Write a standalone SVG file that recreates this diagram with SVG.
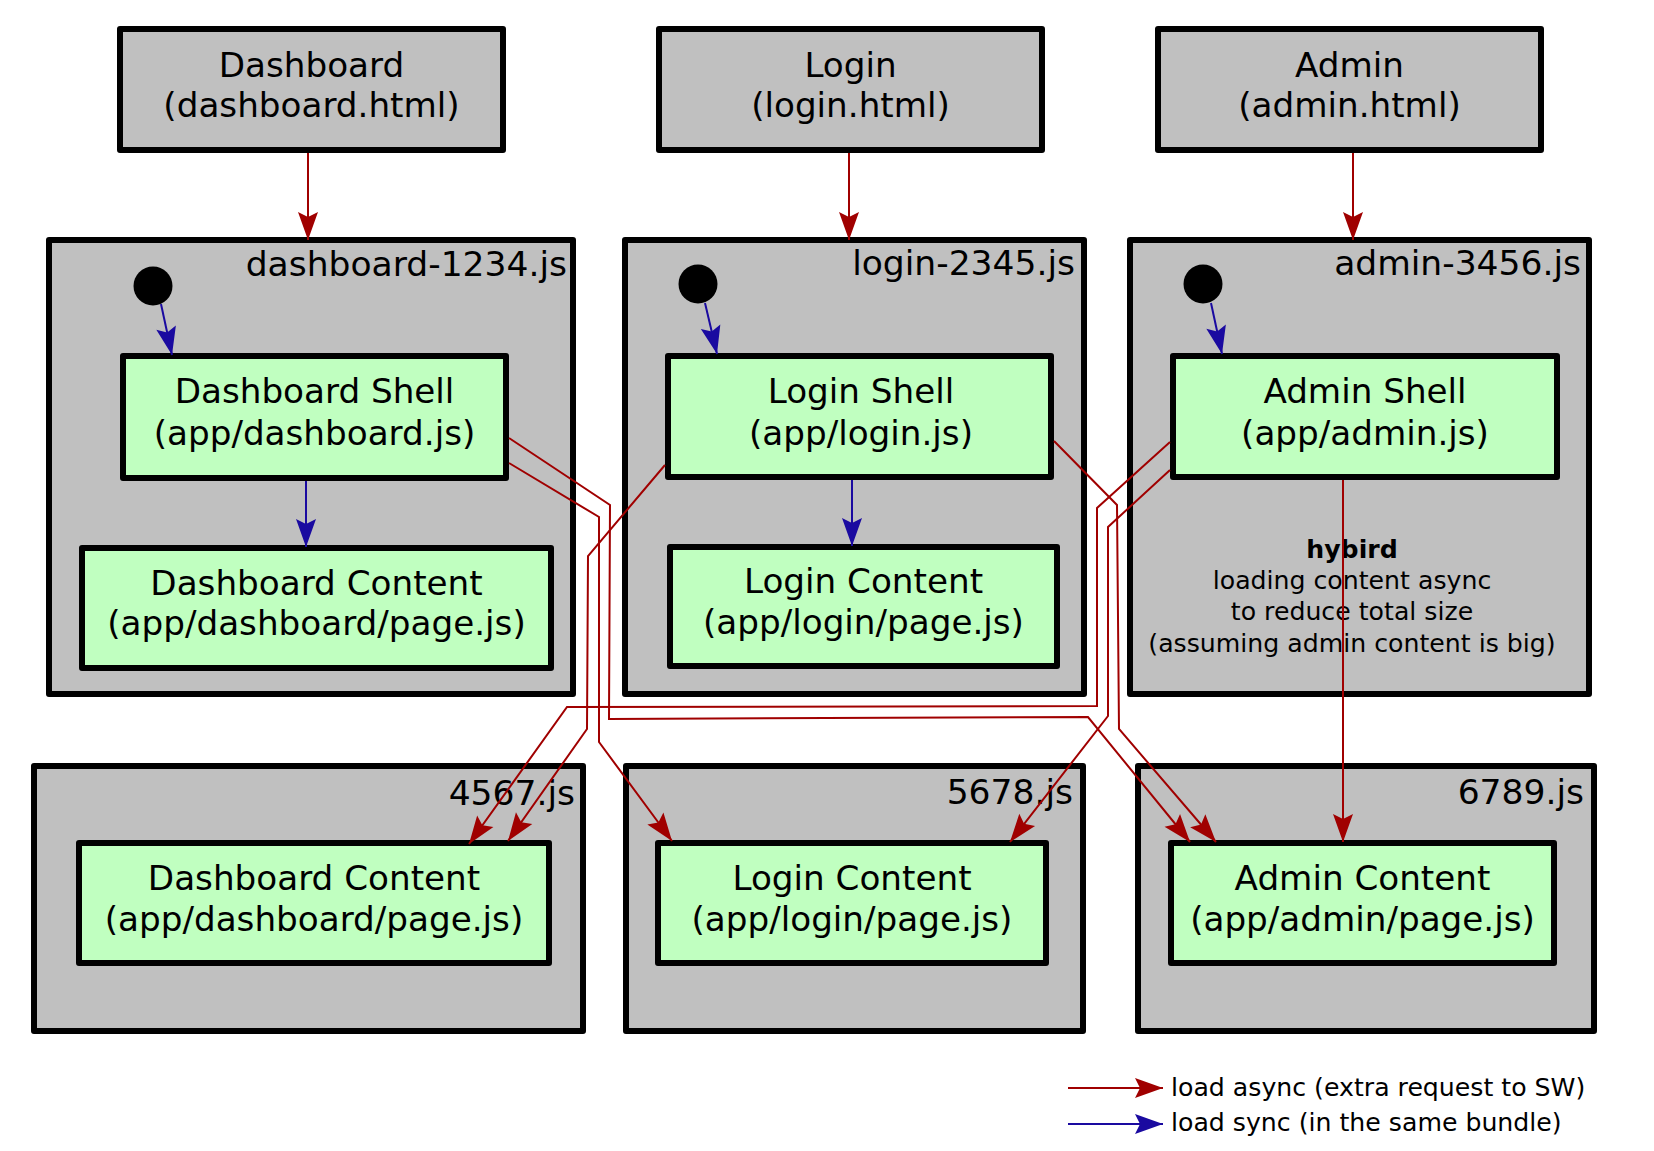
<svg xmlns="http://www.w3.org/2000/svg" width="1654" height="1151" viewBox="0 0 1654 1151">
<style>
  text { font-family: "DejaVu Sans", Verdana, "Liberation Sans", sans-serif; fill: #000; }
  .lbl { font-size: 34.2px; text-anchor: middle; }
  .clbl { font-size: 34.5px; text-anchor: end; }
  .note { font-size: 25.2px; text-anchor: middle; }
  .leg { font-size: 25.2px; }
  .page { fill: #c0c0c0; stroke: #000; stroke-width: 6; stroke-linejoin: round; }
  .cluster { fill: #c0c0c0; stroke: #000; stroke-width: 6; stroke-linejoin: round; }
  .mod { fill: #c0ffc0; stroke: #000; stroke-width: 6; stroke-linejoin: round; }
  .async { fill: none; stroke: #a00000; stroke-width: 2; marker-end: url(#ar); }
  .sync { fill: none; stroke: #1a0aa0; stroke-width: 2; marker-end: url(#ab); }
</style>
<defs>
  <marker id="ar" markerUnits="userSpaceOnUse" markerWidth="28" markerHeight="20" refX="28" refY="10" orient="auto" overflow="visible">
    <path d="M0,0 L28,10 L0,20 L5,10 z" fill="#a00000"/>
  </marker>
  <marker id="ab" markerUnits="userSpaceOnUse" markerWidth="28" markerHeight="20" refX="28" refY="10" orient="auto" overflow="visible">
    <path d="M0,0 L28,10 L0,20 L5,10 z" fill="#1a0aa0"/>
  </marker>
</defs>
<rect width="1654" height="1151" fill="#fff"/>

<!-- clusters -->
<g id="cluster-dashboard-1234">
  <rect class="cluster" x="49" y="240" width="524" height="454"/>
  <text class="clbl" x="567" y="276">dashboard-1234.js</text>
</g>
<g id="cluster-login-2345">
  <rect class="cluster" x="625" y="240" width="459" height="454"/>
  <text class="clbl" x="1075" y="275">login-2345.js</text>
</g>
<g id="cluster-admin-3456">
  <rect class="cluster" x="1130" y="240" width="459" height="454"/>
  <text class="clbl" x="1581" y="275">admin-3456.js</text>
  <text class="note" x="1352" y="558" font-weight="bold">hybird</text>
  <text class="note" x="1352" y="589">loading content async</text>
  <text class="note" x="1352" y="620">to reduce total size</text>
  <text class="note" x="1352" y="652">(assuming admin content is big)</text>
</g>
<g id="cluster-4567">
  <rect class="cluster" x="34" y="766" width="549" height="265"/>
  <text class="clbl" x="575" y="805">4567.js</text>
</g>
<g id="cluster-5678">
  <rect class="cluster" x="626" y="766" width="457" height="265"/>
  <text class="clbl" x="1073" y="804">5678.js</text>
</g>
<g id="cluster-6789">
  <rect class="cluster" x="1138" y="766" width="456" height="265"/>
  <text class="clbl" x="1584" y="804">6789.js</text>
</g>

<!-- pages -->
<g id="dashboard-html">
  <rect class="page" x="120" y="29" width="383" height="121"/>
  <text class="lbl" x="311.5" y="77">Dashboard</text>
  <text class="lbl" x="311.5" y="117">(dashboard.html)</text>
</g>
<g id="login-html">
  <rect class="page" x="659" y="29" width="383" height="121"/>
  <text class="lbl" x="850.5" y="77">Login</text>
  <text class="lbl" x="850.5" y="117">(login.html)</text>
</g>
<g id="admin-html">
  <rect class="page" x="1158" y="29" width="383" height="121"/>
  <text class="lbl" x="1349.5" y="77">Admin</text>
  <text class="lbl" x="1349.5" y="117">(admin.html)</text>
</g>

<!-- entry points -->
<g id="dashboard-entry"><circle cx="153" cy="286" r="19.5" fill="#000"/></g>
<g id="login-entry"><circle cx="698" cy="284" r="19.5" fill="#000"/></g>
<g id="admin-entry"><circle cx="1203" cy="284" r="19.5" fill="#000"/></g>

<!-- shells -->
<g id="dashboard-shell">
  <rect class="mod" x="123" y="356" width="383" height="122"/>
  <text class="lbl" x="314.5" y="403">Dashboard Shell</text>
  <text class="lbl" x="314.5" y="445">(app/dashboard.js)</text>
</g>
<g id="login-shell">
  <rect class="mod" x="668" y="356" width="383" height="121"/>
  <text class="lbl" x="861" y="403">Login Shell</text>
  <text class="lbl" x="861" y="445">(app/login.js)</text>
</g>
<g id="admin-shell">
  <rect class="mod" x="1173" y="356" width="384" height="121"/>
  <text class="lbl" x="1365" y="403">Admin Shell</text>
  <text class="lbl" x="1365" y="445">(app/admin.js)</text>
</g>

<!-- contents inside bundles -->
<g id="dashboard-content-sync">
  <rect class="mod" x="82" y="548" width="469" height="120"/>
  <text class="lbl" x="316.5" y="595">Dashboard Content</text>
  <text class="lbl" x="316.5" y="635">(app/dashboard/page.js)</text>
</g>
<g id="login-content-sync">
  <rect class="mod" x="670" y="547" width="387" height="119"/>
  <text class="lbl" x="863.5" y="593">Login Content</text>
  <text class="lbl" x="863.5" y="634">(app/login/page.js)</text>
</g>

<!-- async contents -->
<g id="dashboard-content-async">
  <rect class="mod" x="79" y="843" width="470" height="120"/>
  <text class="lbl" x="314" y="890">Dashboard Content</text>
  <text class="lbl" x="314" y="931">(app/dashboard/page.js)</text>
</g>
<g id="login-content-async">
  <rect class="mod" x="658" y="843" width="388" height="120"/>
  <text class="lbl" x="852" y="890">Login Content</text>
  <text class="lbl" x="852" y="931">(app/login/page.js)</text>
</g>
<g id="admin-content-async">
  <rect class="mod" x="1171" y="843" width="383" height="120"/>
  <text class="lbl" x="1362.5" y="890">Admin Content</text>
  <text class="lbl" x="1362.5" y="931">(app/admin/page.js)</text>
</g>

<!-- connectors -->
<g id="connectors">
  <path class="async" d="M308,153 L308,240"/>
  <path class="async" d="M849,153 L849,240"/>
  <path class="async" d="M1353,153 L1353,240"/>

  <path class="sync" d="M161,304 L172,355"/>
  <path class="sync" d="M705,303 L717,354"/>
  <path class="sync" d="M1211,303 L1222,354"/>
  <path class="sync" d="M306,481 L306,547"/>
  <path class="sync" d="M852,480 L852,546"/>

  <path class="async" d="M509,438 L610,505 L609,719 L1088,717 L1190,842"/>
  <path class="async" d="M509,463 L599,517 L599,742 L672,841"/>
  <path class="async" d="M665,465 L588,556 L587,729 L508,841"/>
  <path class="async" d="M1170,442 L1097,508 L1097,706 L567,707 L469,844"/>
  <path class="async" d="M1170,470 L1108,527 L1108,716 L1010,842"/>
  <path class="async" d="M1054,441 L1117,505 L1119,729 L1216,842"/>
  <path class="async" d="M1343,480 L1343,842"/>
</g>

<!-- legend -->
<g id="legend">
  <path class="async" d="M1068,1088 L1163,1088"/>
  <text class="leg" x="1171" y="1096">load async (extra request to SW)</text>
  <path class="sync" d="M1068,1124 L1163,1124"/>
  <text class="leg" x="1171" y="1131">load sync (in the same bundle)</text>
</g>
</svg>
